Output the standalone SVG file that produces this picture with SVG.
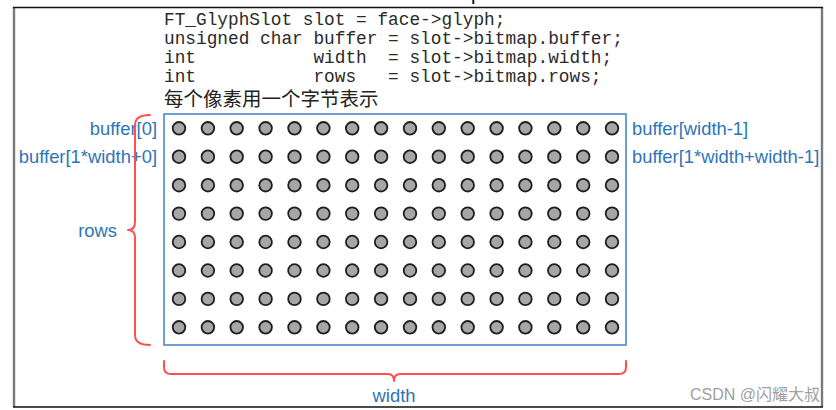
<svg xmlns="http://www.w3.org/2000/svg" xmlns:xlink="http://www.w3.org/1999/xlink" width="836" height="410" viewBox="0 0 836 410">
<style>
.code{font-family:"Liberation Mono","Courier New",monospace;font-size:17.8px;fill:#2a2a2a;white-space:pre}
.cjk{font-family:"Noto Sans CJK SC",sans-serif;font-size:19.5px;fill:#222}
.lbl{font-family:"Liberation Sans",Arial,sans-serif;font-size:18.4px;fill:#2e75b6}
.brace{fill:none;stroke:#ff4f4f;stroke-width:2;stroke-linejoin:round;stroke-linecap:round}
.dot{fill:#a6a6a6;stroke:#1e1e1e;stroke-width:1.8}
</style>
<defs>
<circle id="d" r="6.3" class="dot"/>
<g id="row">
<use xlink:href="#d" x="179"/><use xlink:href="#d" x="207.9"/><use xlink:href="#d" x="236.7"/><use xlink:href="#d" x="265.6"/>
<use xlink:href="#d" x="294.5"/><use xlink:href="#d" x="323.4"/><use xlink:href="#d" x="352.2"/><use xlink:href="#d" x="381.1"/>
<use xlink:href="#d" x="410"/><use xlink:href="#d" x="438.8"/><use xlink:href="#d" x="467.7"/><use xlink:href="#d" x="496.6"/>
<use xlink:href="#d" x="525.4"/><use xlink:href="#d" x="554.3"/><use xlink:href="#d" x="583.2"/><use xlink:href="#d" x="612"/>
</g>
</defs>
<rect width="836" height="410" fill="#fff"/>
<g id="frame">
<line x1="14" y1="7" x2="14" y2="407" stroke="#7a7a7a" stroke-width="2.4"/>
<line x1="822" y1="7" x2="822" y2="407" stroke="#7a7a7a" stroke-width="2.4"/>
<line x1="13" y1="7.5" x2="823" y2="7.5" stroke="#111" stroke-width="1.6"/>
<line x1="13" y1="407" x2="823" y2="407" stroke="#111" stroke-width="1.6"/>
<text x="471" y="0" style="font-family:'Liberation Sans',sans-serif;font-size:20px;fill:#000">p</text>
</g>
<g id="code">
<text class="code" x="164" y="25">FT_GlyphSlot slot = face-&gt;glyph;</text>
<text class="code" x="164" y="44">unsigned char buffer = slot-&gt;bitmap.buffer;</text>
<text class="code" x="164" y="63">int           width  = slot-&gt;bitmap.width;</text>
<text class="code" x="164" y="82">int           rows   = slot-&gt;bitmap.rows;</text>
<text class="cjk" x="164" y="106">每个像素用一个字节表示</text>
</g>
<g id="bitmap">
<rect x="164" y="114" width="462" height="231" fill="none" stroke="#4a8ac4" stroke-width="1.6"/>
<use xlink:href="#row" y="128.3"/>
<use xlink:href="#row" y="156.7"/>
<use xlink:href="#row" y="185.2"/>
<use xlink:href="#row" y="213.6"/>
<use xlink:href="#row" y="242"/>
<use xlink:href="#row" y="270.5"/>
<use xlink:href="#row" y="298.9"/>
<use xlink:href="#row" y="327.3"/>
</g>
<g id="labels">
<text class="lbl" x="157" y="134.5" text-anchor="end">buffer[0]</text>
<text class="lbl" x="157" y="162.5" text-anchor="end">buffer[1*width+0]</text>
<text class="lbl" x="632" y="134.5">buffer[width-1]</text>
<text class="lbl" x="632" y="162.5">buffer[1*width+width-1]</text>
<text class="lbl" x="117" y="236.5" text-anchor="end">rows</text>
<text class="lbl" x="394" y="402" text-anchor="middle">width</text>
</g>
<g id="connectors">
<path class="brace" d="M150,115 Q135,115 135,125 L135,222 Q135,230 128,230 Q135,230 135,238 L135,335 Q135,345 150,345"/>
<path class="brace" d="M164,361 L164,367 Q164,374 171,374 L388,374 Q394,374 394,381 Q394,374 400,374 L619,374 Q626,374 626,367 L626,361"/>
</g>
<text x="820" y="400" text-anchor="end" style="font-family:'Liberation Sans','Noto Sans CJK SC',sans-serif;font-size:16px;fill:#a0a0a0">CSDN @闪耀大叔</text>
</svg>
